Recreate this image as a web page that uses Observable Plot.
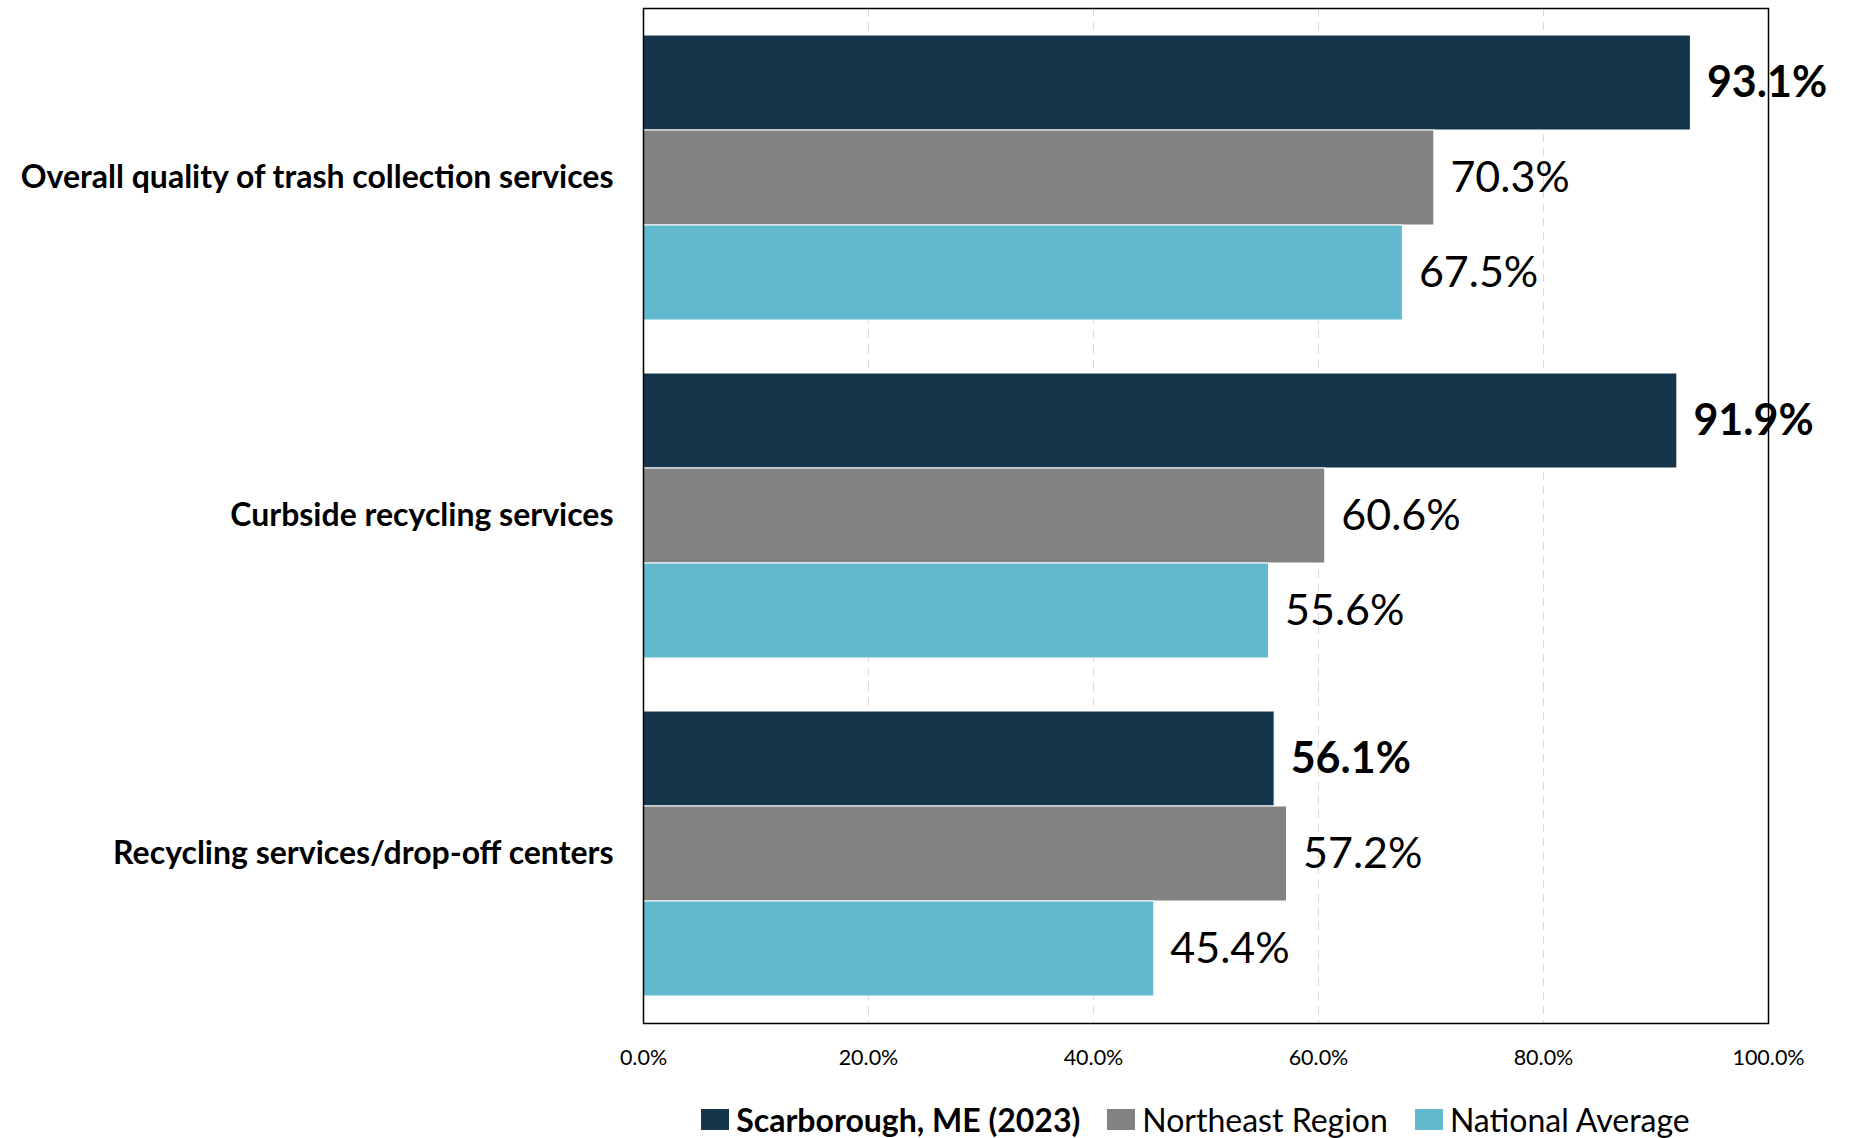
<!DOCTYPE html>
<html><head><meta charset="utf-8">
<script src="https://cdn.jsdelivr.net/npm/d3@7"></script>
<script src="https://cdn.jsdelivr.net/npm/@observablehq/plot@0.6"></script>
<style>
body{margin:0;background:#fff;font-family:Lato,"Open Sans",sans-serif;}
#wrap{position:relative;width:1852px;height:1138px;}
#legend{position:absolute;left:633px;width:1125px;top:1100px;display:flex;justify-content:center;align-items:center;gap:27px;font-size:32px;color:#000;white-space:nowrap;}
#legend .item{display:flex;align-items:center;gap:7px;}
#legend .sw{width:28px;height:21px;display:inline-block;}
svg g[aria-label^="fy-axis"] text{font-size:32px;font-weight:bold;fill:#000;}
</style></head><body><div id="wrap"><div id="chart"></div><div id="legend"></div></div>
<script>
const categories = ["Overall quality of trash collection services","Curbside recycling services","Recycling services/drop-off centers"];
const seriesNames = ["Scarborough, ME (2023)","Northeast Region","National Average"];
const scarborough = [93.1, 91.9, 56.1];
const northeast = [70.3, 60.6, 57.2];
const national = [67.5, 55.6, 45.4];
const seriesColors = ["#15364a","#828282","#62b8cf"];
const xTicks = [0,20,40,60,80,100];
const seriesValues = [scarborough, northeast, national];

const data = categories.flatMap((c,i)=>seriesNames.map((s,j)=>({category:c, series:s, value:seriesValues[j][i]})));
const fmt = d => d.value.toFixed(1) + "%";

const plot = Plot.plot({
  width:1852, height:1080,
  marginLeft:643, marginRight:84, marginTop:8, marginBottom:56,
  style:{fontFamily:"Lato, 'Open Sans', sans-serif", fontSize:"21.5px", background:"#fff", color:"#000"},
  x:{domain:[0,100], ticks:xTicks, tickFormat:d=>d.toFixed(1)+"%", tickSize:0, tickPadding:53, label:null},
  y:{domain:seriesNames, axis:null, padding:0},
  fy:{domain:categories, axis:"left", paddingInner:0.156, paddingOuter:0.078, tickSize:0, tickPadding:30, label:null},
  color:{domain:seriesNames, range:seriesColors},
  marks:[
    Plot.ruleX(xTicks.slice(1,-1), {stroke:"#d9d9d9", strokeWidth:1, strokeDasharray:"8,6", insetTop:-27, insetBottom:-27}),
    Plot.barX(data, {fy:"category", y:"series", x:"value", fill:"series", stroke:"#fff", strokeWidth:1}),
    Plot.text(data, {filter:d=>d.series===seriesNames[0], fy:"category", y:"series", x:"value", text:fmt, textAnchor:"start", dx:16, fontSize:43, fontWeight:"bold", fill:"#000"}),
    Plot.text(data, {filter:d=>d.series!==seriesNames[0], fy:"category", y:"series", x:"value", text:fmt, textAnchor:"start", dx:16, fontSize:43, fill:"#000"}),
    Plot.frame({facet:"super", stroke:"#000", strokeWidth:1.5, insetTop:-27, insetBottom:-27})
  ]
});
document.getElementById("chart").appendChild(plot);

const legend = document.getElementById("legend");
seriesNames.forEach((s,i)=>{
  const it = document.createElement("span"); it.className="item";
  const sw = document.createElement("span"); sw.className="sw"; sw.style.background=seriesColors[i];
  const t = document.createElement("span"); t.textContent=s; if(i===0) t.style.fontWeight="bold";
  it.appendChild(sw); it.appendChild(t); legend.appendChild(it);
});
</script></body></html>
